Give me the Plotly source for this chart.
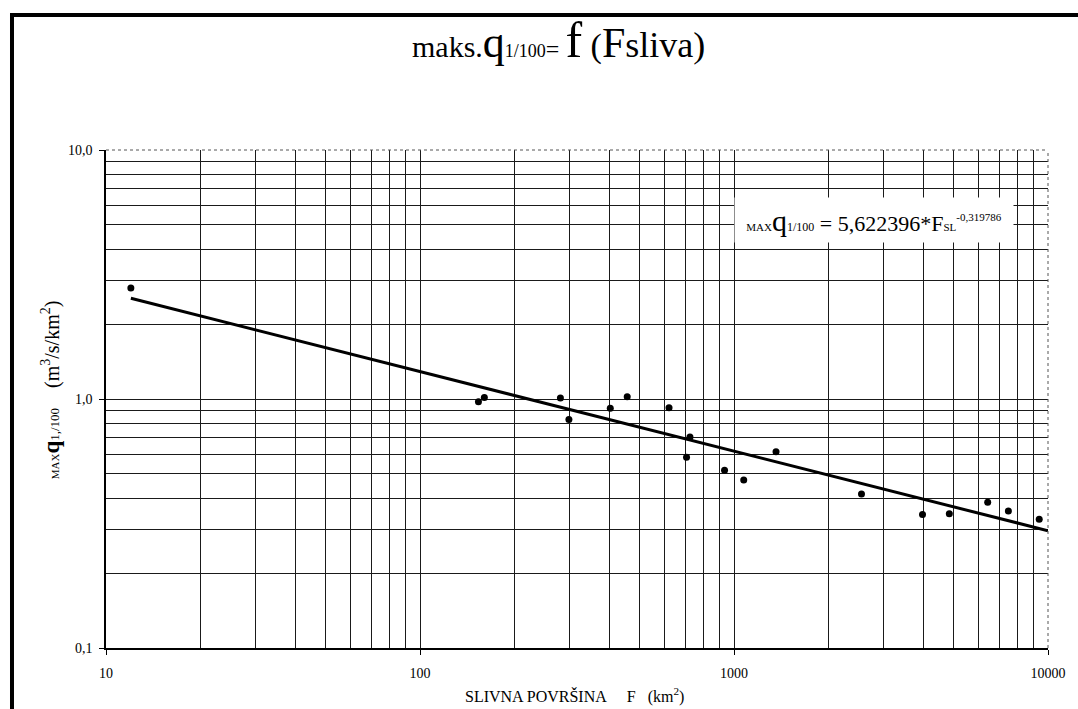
import plotly.graph_objects as go

# ---- data ----
area_km2 = [12.0, 153.5, 160.3, 280, 298, 403.6, 457, 621, 724, 706,
            933, 1074, 1361, 2547, 3984, 4850, 6426, 7478, 9376]
q_max = [2.79, 0.976, 1.015, 1.01, 0.827, 0.919, 1.022, 0.922, 0.703, 0.584,
         0.518, 0.473, 0.614, 0.415, 0.344, 0.346, 0.385, 0.355, 0.329]

# fitted power law shown on the chart: q = a * F^b
fit_a = 5.622396
fit_b = -0.319786
fit_x = [12.0, 10000.0]

x_tickvals = [10, 100, 1000, 10000]
x_ticktext = ["10", "100", "1000", "10000"]
y_tickvals = [0.1, 1, 10]
y_ticktext = ["0,1", "1,0", "10,0"]
x_minor = [m * d for d in (10, 100, 1000) for m in range(2, 10)]
y_minor = [m * d for d in (0.1, 1) for m in range(2, 10)]

FONT = "Liberation Serif"

# plot-area geometry (pixels)
W, H = 1078, 709
L, R, T, B = 106, 1053, 150, 648
PW, PH = R - L, B - T


def px(x):
    return (x - L) / PW


def py(y):
    return (B - y) / PH


def sp(size, txt):
    return f"<span style='font-family:Liberation Serif;font-size:{size}px'>{txt}</span>"


fig = go.Figure()

fig.add_trace(go.Scatter(
    x=fit_x, y=[fit_a * v ** fit_b for v in fit_x], mode="lines",
    line=dict(color="black", width=3), hoverinfo="skip", showlegend=False))

fig.add_trace(go.Scatter(
    x=area_km2, y=q_max, mode="markers",
    marker=dict(color="black", size=7), showlegend=False))

axis_common = dict(
    type="log", showgrid=True, gridcolor="#1a1a1a", gridwidth=1,
    ticks="outside", ticklen=5, tickcolor="black",
    tickfont=dict(family=FONT, size=14, color="black"),
    zeroline=False, showline=True, linecolor="black",
)

fig.update_xaxes(
    **axis_common, range=[1, 4], tickmode="array",
    tickvals=x_tickvals, ticktext=x_ticktext, linewidth=2,
    ticklabelstandoff=6,
    minor=dict(tickmode="array", tickvals=x_minor, showgrid=True,
               gridcolor="#1a1a1a", gridwidth=1, ticks=""),
)
fig.update_yaxes(
    **axis_common, range=[-1, 1], tickmode="array",
    tickvals=y_tickvals, ticktext=y_ticktext, linewidth=1.5,
    ticklabelstandoff=4,
    minor=dict(tickmode="array", tickvals=y_minor, showgrid=True,
               gridcolor="#1a1a1a", gridwidth=1, ticks=""),
)

shapes = [
    # dotted top and right edges of the plot area
    dict(type="line", xref="paper", yref="paper", x0=0, x1=1, y0=1, y1=1,
         line=dict(color="#555", width=1, dash="dot")),
    dict(type="line", xref="paper", yref="paper", x0=1, x1=1, y0=0, y1=1,
         line=dict(color="#555", width=1, dash="dot")),
    # thick page frame (left and top)
    dict(type="line", xref="paper", yref="paper", x0=px(11.5), x1=px(11.5),
         y0=py(13), y1=py(720), line=dict(color="black", width=4)),
    dict(type="line", xref="paper", yref="paper", x0=px(9.5), x1=px(1090),
         y0=py(15), y1=py(15), line=dict(color="black", width=4)),
]

annotations = [
    dict(xref="paper", yref="paper", x=px(561), y=py(40), xanchor="center",
         yanchor="middle", showarrow=False,
         font=dict(family=FONT, size=30, color="black"),
         text=(sp(30, "maks.") + sp(44, "q") + sp(18, "1/100")
               + sp(24, "=") + sp(24, " ") + sp(50, "f") + sp(34, " (")
               + sp(42, "F") + sp(36, "sliva)"))),
    dict(xref="paper", yref="paper", x=px(878), y=py(220), xanchor="center",
         yanchor="middle", showarrow=False, bgcolor="white",
         width=276, height=42,
         font=dict(family=FONT, size=22, color="black"),
         text=(sp(11, "MAX") + sp(30, "q") + sp(12, "1/100")
               + sp(22, " = 5,622396*F") + sp(11, "SL")
               + "<sup>" + sp(11, "-0,319786") + "</sup>")),
    dict(xref="paper", yref="paper", x=px(50), y=py(390), xanchor="center",
         yanchor="middle", showarrow=False, textangle=-90,
         font=dict(family=FONT, size=20, color="black"),
         text=(sp(11, "MAX") + "<b>" + sp(23, "q") + "</b>"
               + sp(13, "1,/100")
               + sp(20, "\u00a0\u00a0\u00a0\u00a0(m<sup>3</sup>/s/km<sup>2</sup>)"))),
    dict(xref="paper", yref="paper", x=px(577), y=py(695), xanchor="center",
         yanchor="middle", showarrow=False,
         font=dict(family=FONT, size=16, color="black"),
         text=sp(16, "SLIVNA POVRŠINA\u00a0\u00a0\u00a0\u00a0\u00a0F\u00a0\u00a0\u00a0"
                 "(km<sup>2</sup>)")),
]

fig.update_layout(
    width=W, height=H,
    margin=dict(l=L, r=W - R, t=T, b=H - B, pad=0),
    paper_bgcolor="white", plot_bgcolor="white",
    shapes=shapes, annotations=annotations,
    font=dict(family=FONT, color="black"),
    showlegend=False,
)

fig.write_html("out.html")
